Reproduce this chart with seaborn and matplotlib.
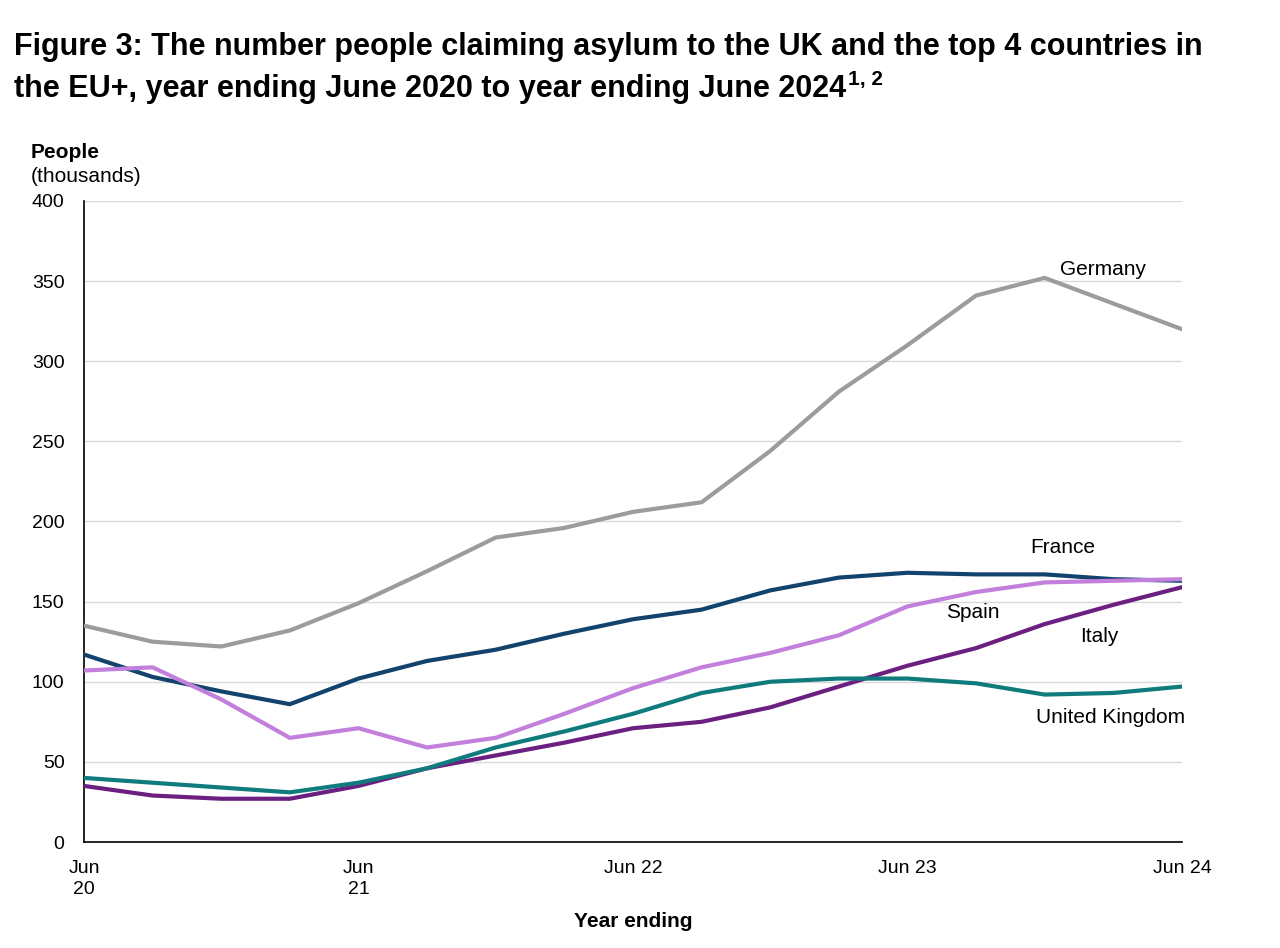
import seaborn as sns
import matplotlib.pyplot as plt
import pandas as pd

quarters = ['Jun 20', 'Sep 20', 'Dec 20', 'Mar 21', 'Jun 21', 'Sep 21', 'Dec 21', 'Mar 22',
            'Jun 22', 'Sep 22', 'Dec 22', 'Mar 23', 'Jun 23', 'Sep 23', 'Dec 23', 'Mar 24', 'Jun 24']
germany = [135, 125, 122, 132, 149, 169, 190, 196, 206, 212, 244, 281, 310, 341, 352, 336, 320]
france = [117, 103, 94, 86, 102, 113, 120, 130, 139, 145, 157, 165, 168, 167, 167, 164, 163]
spain = [107, 109, 89, 65, 71, 59, 65, 80, 96, 109, 118, 129, 147, 156, 162, 163, 164]
italy = [35, 29, 27, 27, 35, 46, 54, 62, 71, 75, 84, 97, 110, 121, 136, 148, 159]
uk = [40, 37, 34, 31, 37, 46, 59, 69, 80, 93, 100, 102, 102, 99, 92, 93, 97]

tick_labels = ['Jun\n20', '', '', '', 'Jun\n21', '', '', '', 'Jun 22', '', '', '',
               'Jun 23', '', '', '', 'Jun 24']

series = {'Germany': germany, 'France': france, 'Spain': spain,
          'Italy': italy, 'United Kingdom': uk}
colors = {'Germany': '#9c9c9c', 'France': '#12436d', 'Spain': '#c27fdb',
          'Italy': '#6b1f80', 'United Kingdom': '#0f7b7d'}

rows = []
for name, vals in series.items():
    for i, v in enumerate(vals):
        rows.append({'q': i, 'value': v, 'country': name})
df = pd.DataFrame(rows)

sns.set_style('white')
plt.rcParams['font.family'] = ['Liberation Sans', 'DejaVu Sans']
plt.rcParams.update({'text.color': 'black', 'axes.labelcolor': 'black',
                     'xtick.color': 'black', 'ytick.color': 'black'})

fig = plt.figure(figsize=(12.8, 9.48), dpi=100)
ax = fig.add_axes([0.0656, 0.1118, 0.8578, 0.6762])

sns.lineplot(data=df, x='q', y='value', hue='country', palette=colors,
             linewidth=3, legend=False, ax=ax, zorder=3)

ax.set_xlim(0, len(quarters) - 1)
ax.set_ylim(0, 400)
ax.set_yticks(range(0, 401, 50))
ax.set_xticks(range(len(quarters)))
ax.set_xticklabels(tick_labels, fontsize=14, linespacing=1.3)
ax.tick_params(axis='y', labelsize=14, length=6, width=1, color='black', pad=8)
ax.tick_params(axis='x', length=7, width=1, color='black', pad=6)
ax.grid(axis='y', color='#d9d9d9', linewidth=1)
ax.set_axisbelow(True)
sns.despine(ax=ax)
for s in ['left', 'bottom']:
    ax.spines[s].set_color('black')
    ax.spines[s].set_linewidth(1.2)
ax.set_xlabel('Year ending', fontsize=15, fontweight='bold', labelpad=10)
ax.set_ylabel('')

# line labels
ax.text(14.22, 357.5, 'Germany', fontsize=15, va='center')
ax.text(13.79, 183.5, 'France', fontsize=15, va='center')
ax.text(12.56, 143.5, 'Spain', fontsize=15, va='center')
ax.text(14.51, 128.5, 'Italy', fontsize=15, va='center')
ax.text(13.87, 78, 'United Kingdom', fontsize=15, va='center')

fig.text(31 / 1280, 1 - 153 / 948, 'People', fontsize=15, fontweight='bold', va='center')
fig.text(31 / 1280, 1 - 176 / 948, '(thousands)', fontsize=15, va='center')

fig.text(14 / 1280, 1 - 47 / 948,
         'Figure 3: The number people claiming asylum to the UK and the top 4 countries in',
         fontsize=22, fontweight='bold', va='center')
t2 = fig.text(14 / 1280, 1 - 89 / 948,
              'the EU+, year ending June 2020 to year ending June 2024',
              fontsize=22, fontweight='bold', va='center')
fig.canvas.draw()
bb = t2.get_window_extent()
fig.text((bb.x1 + 2) / 1280, 1 - 80 / 948, '1, 2', fontsize=15, fontweight='bold', va='center')

fig.savefig('out.png', dpi=100)
